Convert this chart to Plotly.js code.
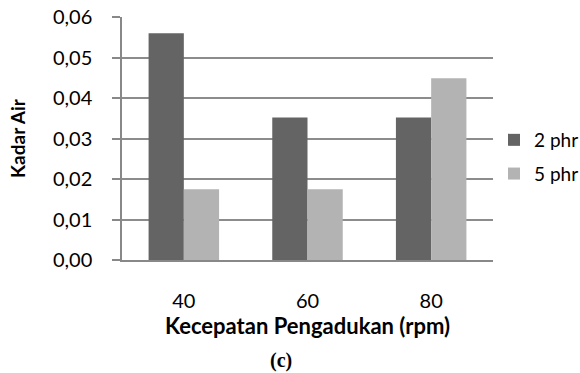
<!DOCTYPE html>
<html><head><meta charset="utf-8">
<script src="https://cdn.plot.ly/plotly-3.0.1.min.js"></script>
<style>body{margin:0;background:#fff}#c{width:580px;height:373px}</style>
</head><body><div id="c"></div>
<script>
const categories = ['40', '60', '80'];
const series2phr = [0.056, 0.0352, 0.0352];
const series5phr = [0.0175, 0.0175, 0.0449];
const yTicks = [0, 0.01, 0.02, 0.03, 0.04, 0.05, 0.06];

const font = 'Lato, Open Sans, sans-serif';
const data = [
  {type:'bar', name:'2 phr', x:categories, y:series2phr, marker:{color:'#646464'}, legendgroup:'a'},
  {type:'bar', name:'5 phr', x:categories, y:series5phr, marker:{color:'#b3b3b3'}, legendgroup:'b'}
];
const layout = {
  width:580, height:373,
  margin:{l:122, r:87, t:17, b:113},
  paper_bgcolor:'#fff', plot_bgcolor:'#fff',
  separators:',.',
  barmode:'group', bargap:0.43, bargroupgap:0,
  font:{family:font, size:20, color:'#000'},
  showlegend:true,
  legend:{xref:'container', yref:'container', x:494/580, y:1-157/373, xanchor:'left', yanchor:'middle',
          font:{size:19}, traceorder:'grouped', tracegroupgap:6, itemwidth:20},
  xaxis:{type:'category', showline:true, linecolor:'#888', linewidth:1.5, ticks:'', showgrid:false,
         tickfont:{size:20}, ticklen:0, ticklabelstandoff:22,
         title:{text:'<b>Kecepatan Pengadukan (rpm)</b>', font:{size:22}, standoff:0}},
  yaxis:{range:[0,0.06], tickvals:yTicks, tickformat:'.2f', showline:true, linecolor:'#888', linewidth:1.5,
         ticks:'outside', ticklen:8, tickcolor:'#888', tickwidth:1.5, ticklabelstandoff:16,
         showgrid:true, gridcolor:'#8c8c8c', gridwidth:1.5, zeroline:false, tickfont:{size:20},
         title:{text:'<b>Kadar Air</b>', font:{size:19}, standoff:22}},
  annotations:[{text:'<b>(c)</b>', xref:'paper', yref:'paper', x:(281-122)/371, y:(260-360)/243, xanchor:'center', yanchor:'middle',
                showarrow:false, font:{family:'Liberation Serif, serif', size:20}}]
};
Plotly.newPlot('c', data, layout, {displayModeBar:false});
</script></body></html>
